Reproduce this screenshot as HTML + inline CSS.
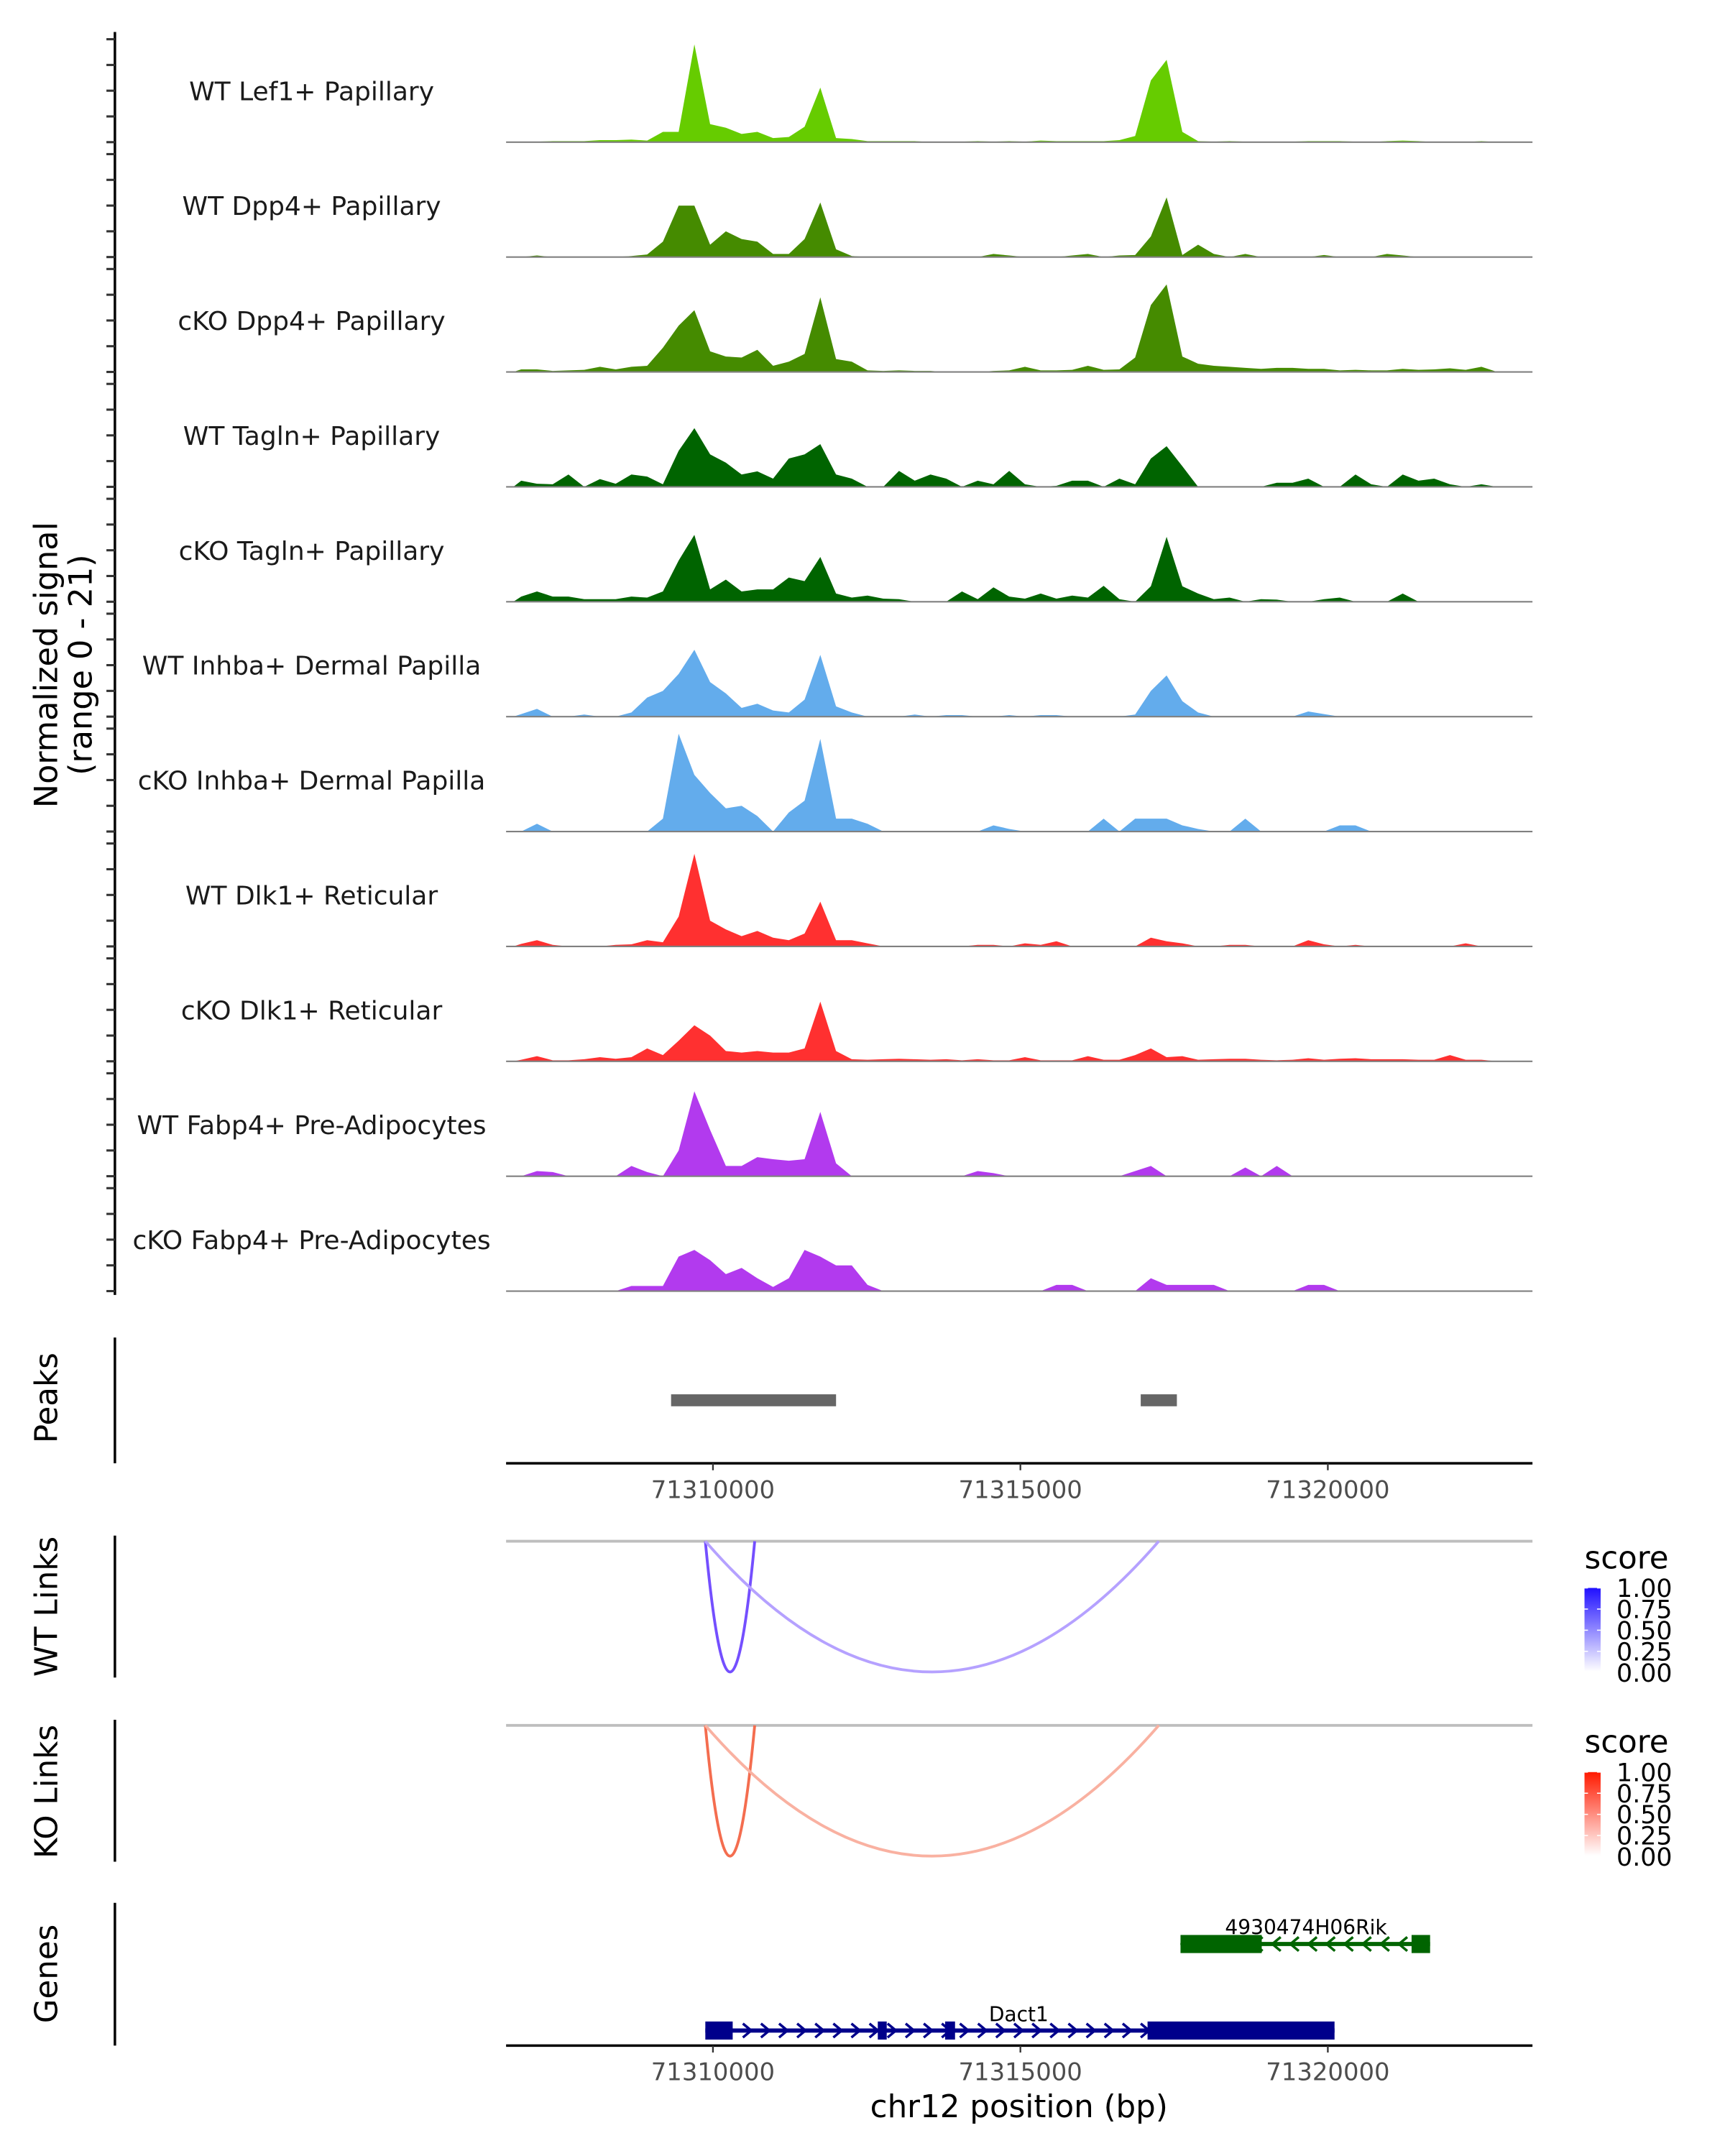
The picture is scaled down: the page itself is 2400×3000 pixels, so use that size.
<!DOCTYPE html>
<html><head><meta charset="utf-8"><style>
html,body{margin:0;padding:0;background:#fff}
svg{display:block}
text{font-family:"DejaVu Sans","Liberation Sans",sans-serif}
</style></head>
<body>
<svg id="fig" xmlns="http://www.w3.org/2000/svg" width="2400" height="3000" viewBox="0 0 1240 1550">
<defs>
<linearGradient id="gBlue" x1="0" y1="1" x2="0" y2="0"><stop offset="0" stop-color="#ffffff"/><stop offset="1" stop-color="#2010ff"/></linearGradient>
<linearGradient id="gRed" x1="0" y1="1" x2="0" y2="0"><stop offset="0" stop-color="#ffffff"/><stop offset="1" stop-color="#ff1a00"/></linearGradient>
</defs>
<g id="tracks"></g>
<g id="lower"></g>
</svg>
<script>
const trackNames = ["WT Lef1+ Papillary","WT Dpp4+ Papillary","cKO Dpp4+ Papillary","WT Tagln+ Papillary","cKO Tagln+ Papillary","WT Inhba+ Dermal Papilla","cKO Inhba+ Dermal Papilla","WT Dlk1+ Reticular","cKO Dlk1+ Reticular","WT Fabp4+ Pre-Adipocytes","cKO Fabp4+ Pre-Adipocytes"];
const binStart = 71306754;
const binSize = 256;
const sigWTLef1 = [0,0.1,0.2,0.2,0.2,0.4,0.4,0.5,0.3,2,2,19,3.5,2.8,1.6,2,0.8,1,3,10.6,0.8,0.6,0.2,0.2,0.2,0.2,0,0,0.1,0.2,0.1,0.2,0.1,0.3,0.2,0.2,0.2,0.2,0.4,1.2,12,16,2,0.2,0.1,0.2,0.1,0.1,0.1,0.1,0.2,0.2,0.2,0.1,0,0.2,0.3,0.2,0,0,0,0.2,0,0,0,0];
const sigWTDpp4 = [0,0.3,0,0,0,0,0,0.2,0.5,3,10,10,2.4,5,3.5,3,0.6,0.6,3.5,10.6,1.5,0.2,0,0,0,0,0,0,0,0,0.6,0.3,0,0,0,0.3,0.6,0,0.3,0.4,4,11.6,0.4,2.4,0.6,0,0.6,0,0,0,0,0.4,0,0,0,0.6,0.3,0,0,0,0,0,0,0,0,0];
const sigKODpp4 = [0.5,0.5,0.2,0.3,0.4,1,0.5,1,1.2,4.7,9,12,4,3,2.8,4.3,1.2,2,3.5,14.5,2.5,2,0.3,0.2,0.3,0.2,0.2,0,0,0,0.2,0.3,1,0.3,0.3,0.4,1.2,0.4,0.5,2.8,13,17,3,1.6,1.2,1,0.8,0.6,0.8,0.8,0.6,0.6,0.3,0.4,0.3,0.3,0.6,0.4,0.5,0.7,0.4,1,0,0,0,0];
const sigWTTagln = [1.2,0.6,0.5,2.4,0,1.5,0.6,2.4,2,0.5,7,11.4,6.3,4.7,2.4,3,1.6,5.5,6.3,8.3,2.4,1.6,0,0,3.1,1.2,2.4,1.6,0,1.2,0.5,3.1,0.5,0,0.2,1.2,1.2,0,1.6,0.5,5.5,7.9,4,0,0,0,0,0,0.8,0.8,1.6,0,0,2.4,0.5,0,2.4,1.2,1.6,0.5,0,0.5,0,0,0,0];
const sigKOTagln = [1,2,1,1,0.5,0.5,0.5,1,0.8,2,8,13,2.4,4.3,2,2.4,2.4,4.7,4,8.7,1.6,0.8,1.2,0.6,0.5,0,0,0,2,0.5,2.8,1,0.6,1.6,0.6,1.2,0.8,3.1,0.5,0,3,12.6,3,1.6,0.5,0.8,0,0.5,0.4,0,0,0.5,0.8,0,0,0,1.6,0,0,0,0,0,0,0,0,0];
const sigWTInhba = [0.5,1.5,0,0,0.4,0,0,0.8,3.7,5,8.3,13,6.7,4.5,1.7,2.5,1.2,0.8,3.3,12,2,0.8,0,0,0,0.4,0,0.3,0.3,0,0,0.3,0,0.3,0.3,0,0,0,0,0.4,5,8,3,0.8,0,0,0,0,0,0,1,0.5,0,0,0,0,0,0,0,0,0,0,0,0,0,0];
const sigKOInhba = [0,1.5,0,0,0,0,0,0,0,2.5,19,11,7.5,4.5,5,3,0,3.7,6,18,2.5,2.5,1.5,0,0,0,0,0,0,0,1.2,0.5,0,0,0,0,0,2.5,0,2.5,2.5,2.5,1.2,0.5,0,0,2.5,0,0,0,0,0,1.2,1.2,0,0,0,0,0,0,0,0,0,0,0,0];
const sigWTDlk1 = [0.5,1.2,0.3,0,0,0,0.3,0.4,1.2,0.8,5.8,18,5,3.3,2,3,1.7,1.2,2.5,8.7,1.2,1.2,0.6,0,0,0,0,0,0,0.3,0.3,0,0.6,0.3,1,0,0,0,0,0,1.7,1,0.6,0,0,0.3,0.3,0,0,0,1.2,0.4,0,0.3,0,0,0,0,0,0,0.6,0,0,0,0,0];
const sigKODlk1 = [0.3,1,0.2,0.2,0.4,0.8,0.5,0.8,2.5,1.2,4,7,5,2,1.7,2,1.7,1.7,2.5,11.6,2,0.4,0.3,0.4,0.5,0.4,0.3,0.4,0.2,0.4,0.2,0.2,0.8,0.2,0.2,0.2,1,0.3,0.3,1.2,2.5,0.8,1,0.3,0.4,0.5,0.5,0.3,0.2,0.3,0.6,0.3,0.5,0.6,0.4,0.4,0.4,0.3,0.3,1.2,0.3,0.3,0,0,0,0];
const sigWTFabp4 = [0,1,0.8,0,0,0,0,2,0.8,0,5,16.5,9,2,2,3.7,3.3,3,3.3,12.5,2.5,0,0,0,0,0,0,0,0,1,0.6,0,0,0,0,0,0,0,0,1,2,0,0,0,0,0,1.7,0,2,0,0,0,0,0,0,0,0,0,0,0,0,0,0,0,0,0];
const sigKOFabp4 = [0,0,0,0,0,0,0,1,1,1,6.7,8,6,3.3,4.5,2.5,0.8,2.5,8,6.7,5,5,1.2,0,0,0,0,0,0,0,0,0,0,0,1.2,1.2,0,0,0,0,2.5,1.2,1.2,1.2,1.2,0,0,0,0,0,1.2,1.2,0,0,0,0,0,0,0,0,0,0,0,0,0,0];
const yTicks = [0,5,10,15,20];
const xTicks = [71310000,71315000,71320000];
const peakStarts = [71309319,71316957];
const peakEnds = [71312002,71317545];
const linkStarts = [71309876,71309876];
const linkEnds = [71310679,71317251];
const wtScores = [0.75,0.4];
const koScores = [0.75,0.4];
const legendTicks = ["1.00","0.75","0.50","0.25","0.00"];
const geneNames = ["4930474H06Rik","Dact1"];
const geneStarts = [71317604,71309876];
const geneEnds = [71321663,71320109];
const geneStrands = [-1,1];
const exonStarts = [[71317604,71321362],[71309876,71312681,71313776,71317068]];
const exonEnds = [[71318925,71321663],[71310321,71312826,71313937,71320109]];

const signals = [sigWTLef1,sigWTDpp4,sigKODpp4,sigWTTagln,sigKOTagln,sigWTInhba,sigKOInhba,sigWTDlk1,sigKODlk1,sigWTFabp4,sigKOFabp4];
const colors = ["#66cc00","#458b00","#458b00","#006400","#006400","#63acec","#63acec","#ff3030","#ff3030","#b23aee","#b23aee"];

const NS="http://www.w3.org/2000/svg";
function mk(tag, attrs, parent){const e=document.createElementNS(NS,tag);for(const k in attrs)e.setAttribute(k,attrs[k]);parent.appendChild(e);return e;}
const X0=363.8, X1=1101.6;
function xs(pos){return 512.5+(pos-71310000)*0.0442;}
const B0=102.2, DY=82.6, PXU=3.7;
function ys(k,v){return B0+k*DY - v*PXU;}

const T=document.getElementById('tracks');
let ax=mk('line',{x1:82.6,y1:23,x2:82.6,y2:931,stroke:'#000','stroke-width':1.8},T);


let yt=mk('text',{x:0,y:0,'font-size':23,'text-anchor':'middle',transform:'translate(41,478) rotate(-90)',fill:'#000'},T);


mk('tspan',{x:0,dy:0},yt).textContent='Normalized signal';
mk('tspan',{x:0,dy:25},yt).textContent='(range 0 - 21)';

signals.forEach((sig,k)=>{
  const g=mk('g',{},T);
  
  
  yTicks.forEach(t=>{
    const tk=mk('line',{x1:76.5,x2:82.6,y1:ys(k,t),y2:ys(k,t),stroke:'#333','stroke-width':1.6},g);
    
    
  });
  const lb=mk('text',{x:224,y:B0+k*DY-37+6.8,'font-size':18.6,'text-anchor':'middle',fill:'#1a1a1a'},g);
  lb.textContent=trackNames[k];
  
  
  let d='M'+xs(binStart).toFixed(2)+','+ys(k,0).toFixed(2);
  sig.forEach((v,i)=>{d+=' L'+xs(binStart+binSize*(i+0.5)).toFixed(2)+','+ys(k,v).toFixed(2);});
  d+=' L'+xs(binStart+binSize*sig.length).toFixed(2)+','+ys(k,0).toFixed(2)+' Z';
  const a=mk('path',{d:d,fill:colors[k],stroke:'none'},g);
  
  
  const bl=mk('line',{x1:X0,x2:X1,y1:ys(k,0),y2:ys(k,0),stroke:'#808080','stroke-width':1.1},g);
  
  
});

const L=document.getElementById('lower');
function vaxis(y1,y2,label,cy,name){
  const l=mk('line',{x1:82.6,x2:82.6,y1:y1,y2:y2,stroke:'#000','stroke-width':1.8},L);
  
  
  const t=mk('text',{x:0,y:0,'font-size':22.5,'text-anchor':'middle',transform:'translate(41,'+cy+') rotate(-90)',fill:'#000'},L);
  t.textContent=label;
  
  
}
function xaxis(y,name){
  const g=mk('g',{},L);
  
  
  mk('line',{x1:X0,x2:X1,y1:y,y2:y,stroke:'#000','stroke-width':1.8},g);
  xTicks.forEach(t=>{
    mk('line',{x1:xs(t),x2:xs(t),y1:y,y2:y+5,stroke:'#333','stroke-width':1.2},g);
    const tl=mk('text',{x:xs(t),y:y+25,'font-size':17.5,'text-anchor':'middle',fill:'#4d4d4d'},g);
    tl.textContent=t;
    
    
  });
}
vaxis(961.6,1052,'Peaks',1005,'peaks');
peakStarts.forEach((s,i)=>{
  const r=mk('rect',{x:xs(s),y:1002.4,width:xs(peakEnds[i])-xs(s),height:8.6,fill:'#666666'},L);
  
  
});
xaxis(1052,'peaks-x-axis');

function mixc(end,s){return 'rgb('+end.map(c=>Math.round(255*(1-s)+c*s)).join(',')+')';}
function links(y0,scores,end,label,cy,name,grad,legY){
  vaxis(y0-4,y0+98,label,cy,name);
  const gl=mk('line',{x1:X0,x2:X1,y1:y0,y2:y0,stroke:'#bebebe','stroke-width':2},L);
  
  
  const depth=94;
  linkStarts.forEach((s,i)=>{
    const a=xs(s), b=xs(linkEnds[i]), m=(a+b)/2;
    const p=mk('path',{d:'M'+a+','+y0+' Q'+m+','+(y0+2*depth)+' '+b+','+y0,fill:'none',stroke:mixc(end,scores[i]),'stroke-width':2},L);
    
    
  });
  const lg=mk('g',{},L);
  
  
  const st=mk('text',{x:1139,y:legY+8,'font-size':22.5,fill:'#000'},lg);
  st.textContent='score';
  mk('rect',{x:1139,y:legY+22,width:11.6,height:60,fill:'url(#'+grad+')'},lg);
  legendTicks.forEach((t,i)=>{
    const yy=legY+22+i*15.2;
    mk('line',{x1:1139,x2:1141.5,y1:yy,y2:yy,stroke:'#fff','stroke-width':0.8},lg);
    mk('line',{x1:1148,x2:1150.6,y1:yy,y2:yy,stroke:'#fff','stroke-width':0.8},lg);
    const tt=mk('text',{x:1162,y:yy+6.5,'font-size':18,fill:'#000'},lg);
    tt.textContent=t;
  });
}
links(1108,wtScores,[70,20,255],'WT Links',1155,'wt-links','gBlue',1119.6);
links(1240.4,koScores,[240,60,20],'KO Links',1288,'ko-links','gRed',1252);

vaxis(1368,1470.6,'Genes',1419,'genes');
const gy=[1397.6,1459.8], gcol=['#006400','#00008b'], labY=[1390.5,1453];
geneNames.forEach((n,i)=>{
  const g=mk('g',{},L);
  
  
  const a=xs(geneStarts[i]), b=xs(geneEnds[i]), y=gy[i];
  mk('line',{x1:a,x2:b,y1:y,y2:y,stroke:gcol[i],'stroke-width':3},g);
  for(let x=a+4;x<b-2;x+=13){
    const dx=geneStrands[i]>0?3:-3;
    mk('path',{d:'M'+(x-dx)+','+(y-5)+' L'+(x+dx)+','+y+' L'+(x-dx)+','+(y+5),fill:'none',stroke:gcol[i],'stroke-width':1.8},g);
  }
  exonStarts[i].forEach((s,j)=>{
    const r=mk('rect',{x:xs(s),y:y-6.5,width:xs(exonEnds[i][j])-xs(s),height:13,fill:gcol[i]},g);
    
    
  });
  const t=mk('text',{x:(i===0?938.8:732.3),y:labY[i],'font-size':14.5,'text-anchor':'middle',fill:'#000'},g);
  t.textContent=n;
});
xaxis(1470.6,'genes-x-axis');
const xt=mk('text',{x:732.5,y:1522,'font-size':22.5,'text-anchor':'middle',fill:'#000'},L);
xt.textContent='chr12 position (bp)';


</script>
</body></html>
